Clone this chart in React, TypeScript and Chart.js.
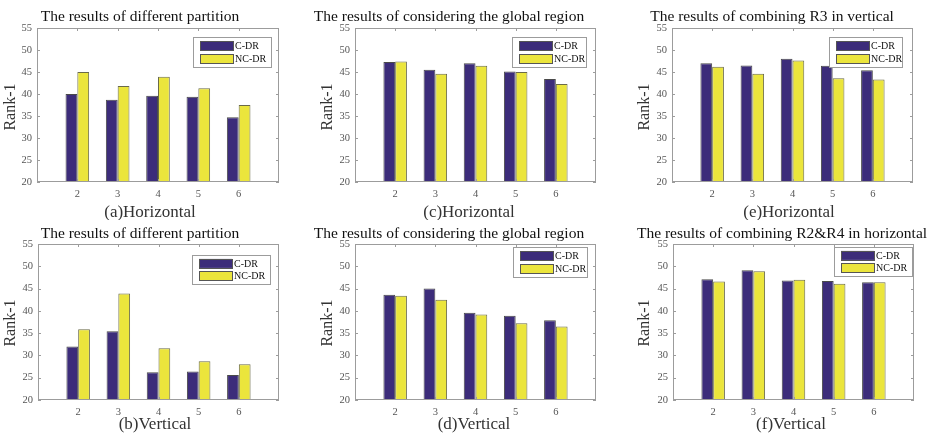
import React, { useEffect, useRef } from "react";
import { Chart, registerables } from "chart.js";

Chart.register(...registerables);

const categories = ["2", "3", "4", "5", "6"];
const yTicks = [20, 25, 30, 35, 40, 45, 50, 55];
const seriesNames = ["C-DR", "NC-DR"];

const aC = [40.0, 38.7, 39.6, 39.4, 34.7];
const aNC = [45.0, 41.8, 43.9, 41.3, 37.5];
const cC = [47.3, 45.5, 47.0, 45.1, 43.4];
const cNC = [47.4, 44.6, 46.4, 45.0, 42.3];
const eC = [47.0, 46.5, 48.0, 46.4, 45.4];
const eNC = [46.2, 44.6, 47.6, 43.6, 43.3];
const bC = [32.0, 35.4, 26.2, 26.4, 25.6];
const bNC = [35.9, 43.9, 31.6, 28.7, 28.0];
const dC = [43.6, 45.0, 39.6, 38.9, 37.9];
const dNC = [43.4, 42.5, 39.2, 37.2, 36.5];
const fC = [47.1, 49.1, 46.8, 46.7, 46.4];
const fNC = [46.6, 48.9, 47.0, 46.1, 46.4];

const titles = [
  "The results of different partition",
  "The results of considering the global region",
  "The results of combining R3 in vertical",
  "The results of different partition",
  "The results of considering the global region",
  "The results of combining R2&R4 in horizontal",
];
const subtitles = ["(a)Horizontal", "(c)Horizontal", "(e)Horizontal", "(b)Vertical", "(d)Vertical", "(f)Vertical"];
const yLabel = "Rank-1";

const C_COLOR = "#3c2c7a";
const NC_COLOR = "#ebe53c";
const SERIF = '"Liberation Serif", "Times New Roman", serif';

type Panel = {
  c: number[]; nc: number[]; title: string; sub: string;
  left: number; top: number; width: number; height: number;
  area: { l: number; r: number; t: number; b: number };
  titleCx: number; titleCy: number; subCx: number; subCy: number;
  yLabX: number; yLabY: number;
  legend: [number, number, number, number];
};

const panels: Panel[] = [
  { c: aC, nc: aNC, title: titles[0], sub: subtitles[0], left: 0, top: 0, width: 305, height: 220,
    area: { l: 37, r: 279, t: 28, b: 182 }, titleCx: 140, titleCy: 17, subCx: 150, subCy: 213, yLabX: 11, yLabY: 107, legend: [193, 37, 78, 30] },
  { c: cC, nc: cNC, title: titles[1], sub: subtitles[1], left: 305, top: 0, width: 312, height: 220,
    area: { l: 355, r: 596, t: 28, b: 182 }, titleCx: 449, titleCy: 17, subCx: 469, subCy: 213, yLabX: 328, yLabY: 107, legend: [512, 37, 74, 30] },
  { c: eC, nc: eNC, title: titles[2], sub: subtitles[2], left: 617, top: 0, width: 317, height: 220,
    area: { l: 672, r: 913, t: 28, b: 182 }, titleCx: 772, titleCy: 17, subCx: 789, subCy: 213, yLabX: 645, yLabY: 107, legend: [829, 37, 73, 30] },
  { c: bC, nc: bNC, title: titles[3], sub: subtitles[3], left: 0, top: 220, width: 305, height: 219,
    area: { l: 38, r: 279, t: 244, b: 400 }, titleCx: 140, titleCy: 234, subCx: 155, subCy: 425, yLabX: 11, yLabY: 323, legend: [192, 255, 78, 29] },
  { c: dC, nc: dNC, title: titles[4], sub: subtitles[4], left: 305, top: 220, width: 312, height: 219,
    area: { l: 355, r: 596, t: 244, b: 400 }, titleCx: 449, titleCy: 234, subCx: 474, subCy: 425, yLabX: 328, yLabY: 323, legend: [513, 247, 74, 30] },
  { c: fC, nc: fNC, title: titles[5], sub: subtitles[5], left: 617, top: 220, width: 317, height: 219,
    area: { l: 673, r: 914, t: 244, b: 400 }, titleCx: 782, titleCy: 234, subCx: 791, subCy: 425, yLabX: 645, yLabY: 323, legend: [834, 247, 78, 29] },
];

const decorPlugin = {
  id: "panelDecor",
  afterDraw(chart: any, _args: any, opts: any) {
    const p: Panel = opts.panel;
    const ctx: CanvasRenderingContext2D = chart.ctx;
    const a = chart.chartArea;
    const ox = p.left, oy = p.top;
    ctx.save();
    // axes box
    ctx.strokeStyle = "#9c9c9c";
    ctx.lineWidth = 1;
    ctx.strokeRect(Math.round(a.left) + 0.5, Math.round(a.top) + 0.5, Math.round(a.right - a.left) - 1, Math.round(a.bottom - a.top) - 1);
    // inside ticks
    const ys = chart.scales.y;
    const xs = chart.scales.x;
    const tl = 3;
    ctx.beginPath();
    ys.ticks.forEach((t: any) => {
      const py = Math.round(ys.getPixelForValue(t.value)) + 0.5;
      ctx.moveTo(a.left, py); ctx.lineTo(a.left + tl, py);
      ctx.moveTo(a.right - tl, py); ctx.lineTo(a.right, py);
    });
    for (let i = 1; i <= categories.length; i++) {
      const px = Math.round(xs.getPixelForValue(i)) + 0.5;
      ctx.moveTo(px, a.bottom); ctx.lineTo(px, a.bottom - tl);
      ctx.moveTo(px, a.top); ctx.lineTo(px, a.top + tl);
    }
    ctx.stroke();
    // title
    ctx.fillStyle = "#111";
    ctx.font = `15.5px ${SERIF}`;
    ctx.textAlign = "center";
    ctx.textBaseline = "middle";
    ctx.fillText(p.title, p.titleCx - ox, p.titleCy - oy);
    // subtitle
    ctx.fillStyle = "#333";
    ctx.font = `17px ${SERIF}`;
    ctx.fillText(p.sub, p.subCx - ox, p.subCy - oy);
    // y label
    ctx.save();
    ctx.translate(p.yLabX - ox, p.yLabY - oy);
    ctx.rotate(-Math.PI / 2);
    ctx.font = `16px ${SERIF}`;
    ctx.fillText(yLabel, 0, 0);
    ctx.restore();
    // legend
    const [lx, ly, lw, lh] = p.legend;
    const x0 = lx - ox, y0 = ly - oy;
    ctx.fillStyle = "#fff";
    ctx.fillRect(x0, y0, lw, lh);
    ctx.strokeStyle = "#9c9c9c";
    ctx.strokeRect(x0 + 0.5, y0 + 0.5, lw, lh);
    const ds = chart.data.datasets;
    const rowsY = [y0 + lh * 0.29, y0 + lh * 0.72];
    ctx.font = `10px ${SERIF}`;
    ctx.textAlign = "left";
    ds.forEach((d: any, i: number) => {
      const cy = rowsY[i];
      ctx.fillStyle = d.backgroundColor;
      ctx.fillRect(x0 + 7, cy - 4.5, 33, 9);
      ctx.strokeStyle = "#555";
      ctx.strokeRect(x0 + 7.5, Math.round(cy - 4.5) + 0.5, 33, 9);
      ctx.fillStyle = "#111";
      ctx.fillText(d.label, x0 + 42, cy + 0.5);
    });
    ctx.restore();
  },
};

function PanelChart({ p }: { p: Panel }) {
  const ref = useRef<HTMLCanvasElement | null>(null);
  useEffect(() => {
    if (!ref.current) return;
    const axisLabels = ["1", ...categories, "7"];
    const chart = new Chart(ref.current, {
      type: "bar",
      data: {
        labels: axisLabels,
        datasets: [
          { label: seriesNames[0], data: [null, ...p.c, null], backgroundColor: C_COLOR, borderColor: "#4a4a4a", borderWidth: 1 },
          { label: seriesNames[1], data: [null, ...p.nc, null], backgroundColor: NC_COLOR, borderColor: "#6a6a4a", borderWidth: 1 },
        ],
      },
      options: {
        animation: false,
        responsive: false,
        maintainAspectRatio: false,
        events: [],
        datasets: { bar: { categoryPercentage: 0.585, barPercentage: 1.0 } },
        layout: {
          padding: {
            left: 0,
            top: p.area.t - p.top,
            right: p.left + p.width - p.area.r,
            bottom: 0,
          },
        },
        scales: {
          x: {
            type: "category",
            offset: false,
            grid: { display: false, drawTicks: false, offset: false },
            border: { display: false },
            ticks: {
              autoSkip: false,
              maxRotation: 0,
              padding: 6,
              color: "#555",
              font: { family: SERIF, size: 10.5 },
              callback: (_v: any, i: number) => (i === 0 || i === axisLabels.length - 1 ? "" : axisLabels[i]),
            },
            afterFit: (s: any) => { s.height = p.top + p.height - p.area.b; },
          },
          y: {
            min: yTicks[0],
            max: yTicks[yTicks.length - 1],
            grid: { display: false, drawTicks: false },
            border: { display: false },
            ticks: {
              stepSize: 5,
              padding: 5,
              color: "#555",
              font: { family: SERIF, size: 10.5 },
            },
            afterFit: (s: any) => { s.width = p.area.l - p.left; },
          },
        },
        plugins: {
          legend: { display: false },
          title: { display: false },
          tooltip: { enabled: false },
          panelDecor: { panel: p },
        } as any,
      },
      plugins: [decorPlugin],
    } as any);
    return () => chart.destroy();
  }, [p]);
  return (
    <canvas
      ref={ref}
      width={p.width}
      height={p.height}
      style={{ position: "absolute", left: p.left, top: p.top, width: p.width, height: p.height }}
    />
  );
}

export default function App() {
  return (
    <div style={{ position: "fixed", left: 0, top: 0, width: 934, height: 439, background: "#fff", overflow: "hidden" }}>
      {panels.map((p, i) => (
        <PanelChart key={i} p={p} />
      ))}
    </div>
  );
}
